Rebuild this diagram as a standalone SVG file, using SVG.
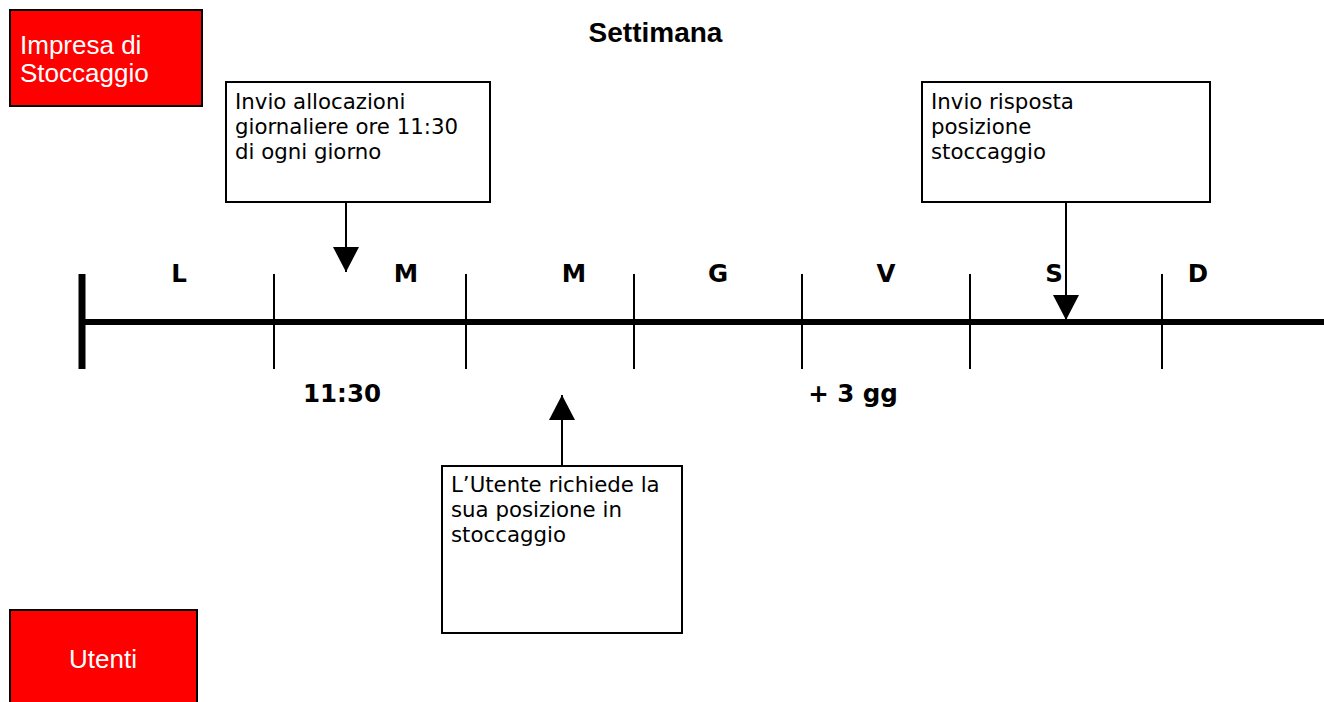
<svg xmlns="http://www.w3.org/2000/svg" width="1324" height="702" viewBox="0 0 1324 702">
<style>
.red{fill:#ff0000;stroke:#000;stroke-width:2}
.rtxt{font-family:"Liberation Sans",Arial,sans-serif;font-size:26px;fill:#fff}
.box{fill:#fff;stroke:#000;stroke-width:2}
.btxt{font-family:"DejaVu Sans",Verdana,sans-serif;font-size:21.3px;fill:#000}
.day{font-family:"DejaVu Sans",Verdana,sans-serif;font-size:24.5px;font-weight:bold;fill:#000;text-anchor:middle}
.tick{stroke:#000;stroke-width:2}
.conn{stroke:#000;stroke-width:2;fill:none;marker-end:url(#arrow)}
</style>
<defs>
<marker id="arrow" viewBox="0 0 25 26" refX="25" refY="13" markerWidth="25" markerHeight="26" orient="auto" markerUnits="userSpaceOnUse">
<path d="M0,0 L25,13 L0,26 z" fill="#000"/>
</marker>
</defs>
<rect width="1324" height="702" fill="#fff"/>
<g id="title">
<text x="655.5" y="42" font-family="Liberation Sans, Arial, sans-serif" font-size="28" font-weight="bold" text-anchor="middle">Settimana</text>
</g>
<g id="impresa">
<rect class="red" x="10" y="10" width="192" height="96"/>
<text class="rtxt" x="20" y="54">Impresa di</text>
<text class="rtxt" x="20" y="82">Stoccaggio</text>
</g>
<g id="utenti">
<rect class="red" x="10" y="610" width="187" height="100"/>
<text class="rtxt" x="103" y="668" text-anchor="middle">Utenti</text>
</g>
<g id="timeline">
<line x1="82" y1="322" x2="1324" y2="322" stroke="#000" stroke-width="6"/>
<line x1="82" y1="274" x2="82" y2="369" stroke="#000" stroke-width="7"/>
<line class="tick" x1="274" y1="274" x2="274" y2="369"/>
<line class="tick" x1="466" y1="274" x2="466" y2="369"/>
<line class="tick" x1="634" y1="274" x2="634" y2="369"/>
<line class="tick" x1="802" y1="274" x2="802" y2="369"/>
<line class="tick" x1="970" y1="274" x2="970" y2="369"/>
<line class="tick" x1="1162" y1="274" x2="1162" y2="369"/>
<text class="day" x="179" y="282">L</text>
<text class="day" x="406" y="282">M</text>
<text class="day" x="574" y="282">M</text>
<text class="day" x="718" y="282">G</text>
<text class="day" x="886" y="282">V</text>
<text class="day" x="1054" y="282">S</text>
<text class="day" x="1198" y="282">D</text>
<text class="day" x="342" y="402">11:30</text>
<text class="day" x="853" y="402">+ 3 gg</text>
</g>
<g id="box-allocazioni">
<rect class="box" x="226" y="82" width="264" height="120"/>
<text class="btxt" x="235" y="109">Invio allocazioni</text>
<text class="btxt" x="235" y="134">giornaliere ore 11:30</text>
<text class="btxt" x="235" y="159">di ogni giorno</text>
</g>
<g id="box-risposta">
<rect class="box" x="922" y="82" width="288" height="120"/>
<text class="btxt" x="931" y="109">Invio risposta</text>
<text class="btxt" x="931" y="134">posizione</text>
<text class="btxt" x="931" y="159">stoccaggio</text>
</g>
<g id="box-richiesta">
<rect class="box" x="442" y="466" width="240" height="167"/>
<text class="btxt" x="451" y="492">L’Utente richiede la</text>
<text class="btxt" x="451" y="517">sua posizione in</text>
<text class="btxt" x="451" y="542">stoccaggio</text>
</g>
<g id="connectors">
<line class="conn" x1="346" y1="202" x2="346" y2="272"/>
<line class="conn" x1="1066" y1="202" x2="1066" y2="320"/>
<line class="conn" x1="562" y1="466" x2="562" y2="395"/>
</g>
</svg>
